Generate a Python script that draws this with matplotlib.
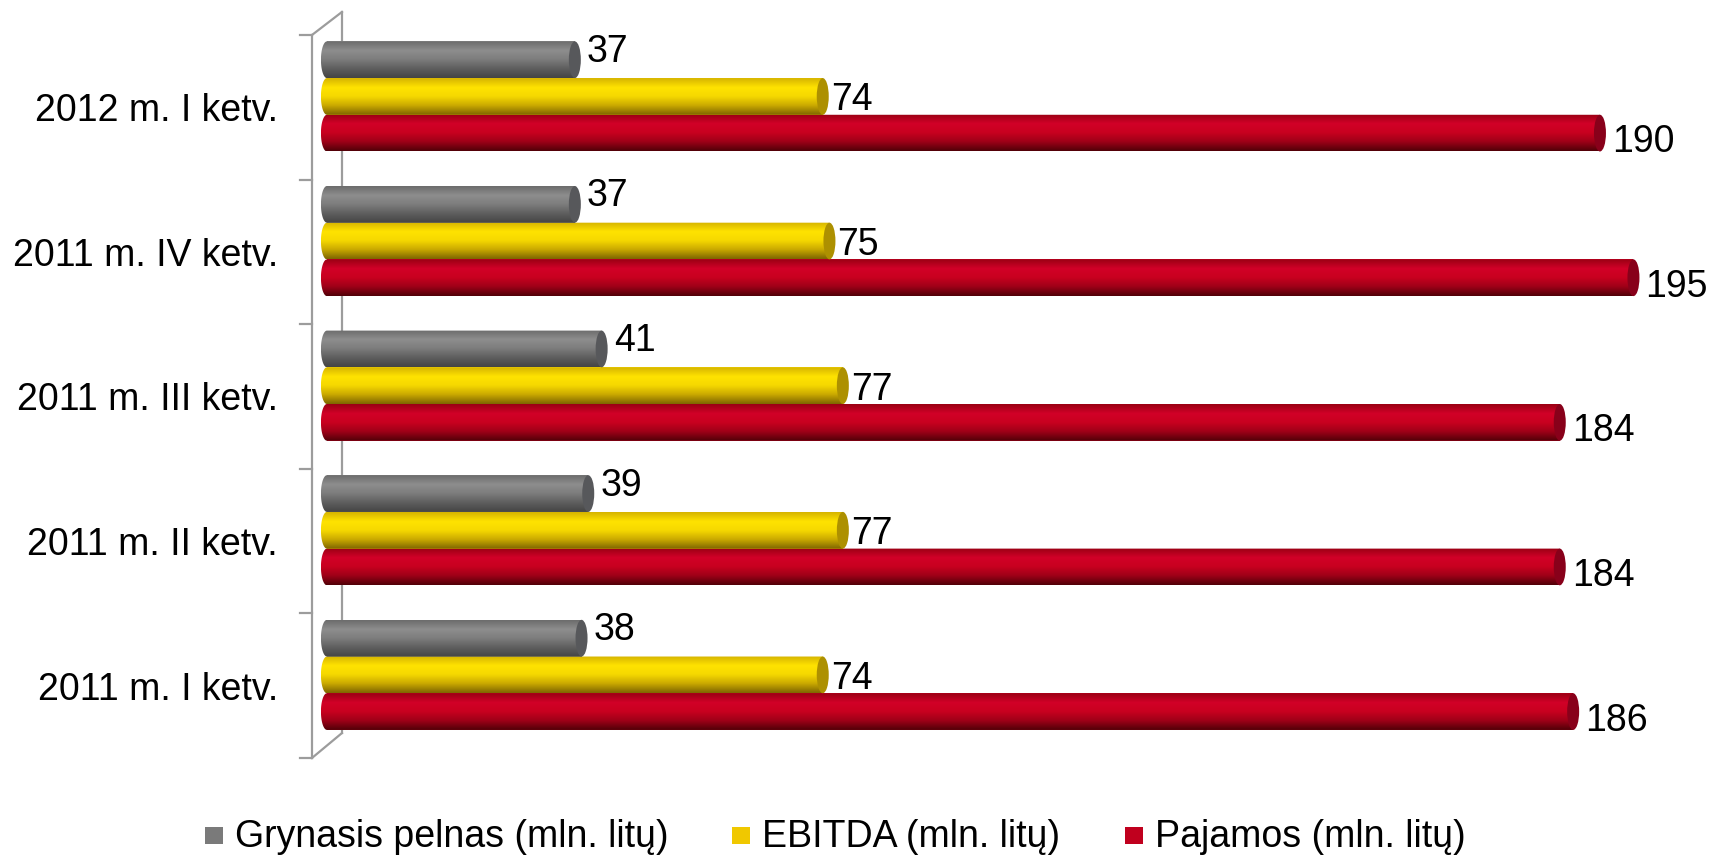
import numpy as np
import matplotlib
matplotlib.use("Agg")
import matplotlib.pyplot as plt
from matplotlib.colors import LinearSegmentedColormap
from matplotlib.patches import Polygon, Ellipse, Rectangle

plt.rcParams["font.family"] = ["Liberation Sans", "DejaVu Sans"]

# data (bottom to top)
quarters = ["2011 m. I ketv.", "2011 m. II ketv.", "2011 m. III ketv.",
            "2011 m. IV ketv.", "2012 m. I ketv."]
net_profit = [38, 39, 41, 37, 37]
ebitda = [74, 77, 77, 75, 74]
revenue = [186, 184, 184, 195, 190]
series_names = ["Grynasis pelnas (mln. litų)", "EBITDA (mln. litų)", "Pajamos (mln. litų)"]

# cylinder shading: top -> bottom
shades = [
    ["#6c6c6c", "#8e8e8e", "#7c7c7c", "#5e5e5e", "#454545"],
    ["#d6b400", "#ffe300", "#f5d800", "#c9a800", "#7f6600"],
    ["#9a0014", "#d20028", "#c8001f", "#9e0018", "#520008"],
]
caps = ["#57585b", "#ad9000", "#88001a"]
legend_colors = ["#7a7a7a", "#f0c800", "#c0001e"]

fs = 27
fig = plt.figure(figsize=(17.09, 8.55), dpi=100)
ax = fig.add_axes([0.1717, 0.1092, 0.8233, 0.8795])

px_x = 1407 / 210.0       # pixels per x unit
px_y = 752 / 5.2          # pixels per y unit
bh = 36.7 / px_y
rx = 6 / px_x

y = np.arange(len(quarters))
values = [net_profit, ebitda, revenue]
offsets = [bh, 0, -bh]

# 3D-ish axis frame
fx, bx = -15 / px_x, 15 / px_x
ftop, fbot = 4.4246, -0.575
btop, bbot = 4.584, -0.4025
lc = "#9c9c9c"
ax.plot([fx, fx], [fbot, ftop], color=lc, lw=1.6, clip_on=False, zorder=1)
ax.plot([bx, bx], [bbot, btop], color=lc, lw=1.6, clip_on=False, zorder=1)
ax.plot([fx, bx], [ftop, btop], color=lc, lw=1.6, clip_on=False, zorder=1)
ax.plot([fx, bx], [fbot, bbot], color=lc, lw=1.6, clip_on=False, zorder=1)
for t in range(6):
    ax.plot([fx - 12 / px_x, fx], [ftop - t, ftop - t], color=lc, lw=1.6,
            clip_on=False, zorder=1)

label_dx = [12, 8, 12]
label_dy = [12, 0, -5]

for s in [2, 1, 0]:
    cmap = LinearSegmentedColormap.from_list(f"c{s}", shades[s])
    grad = cmap(np.linspace(0, 1, 64))[:, None, :]
    bars = ax.barh(y + offsets[s], values[s], height=bh, color=shades[s][1],
                   linewidth=0, zorder=2)
    for bar, v in zip(bars, values[s]):
        y0 = bar.get_y()
        y1 = y0 + bar.get_height()
        yc = (y0 + y1) / 2
        # left rounded end
        arc = [(rx * np.cos(a), yc + (bh / 2) * np.sin(a))
               for a in np.linspace(3 * np.pi / 2, np.pi / 2, 40)]
        poly = Polygon([(0, y1), (v, y1), (v, y0), (0, y0)] + arc,
                       closed=True, transform=ax.transData)
        im = ax.imshow(grad, extent=[-rx, v, y0, y1], aspect="auto",
                       origin="upper", interpolation="bicubic", zorder=3)
        im.set_clip_path(poly)
        ax.add_patch(Ellipse((v, yc), 2 * rx, bh, facecolor=caps[s],
                             edgecolor="none", zorder=4))
        ax.annotate(str(v), (v, yc), xytext=(label_dx[s] * 0.72, label_dy[s] * 0.72),
                    textcoords="offset points", ha="left", va="center_baseline",
                    fontsize=fs, color="black", zorder=5)

ax.set_xlim(-5, 205)
ax.set_ylim(-0.6, 4.6)
ax.set_yticks(y - 0.075)
ax.set_yticklabels(quarters, fontsize=fs)
ax.tick_params(axis="y", length=0, pad=11.2)
ax.set_xticks([])
for sp in ax.spines.values():
    sp.set_visible(False)

# legend
W, H = 1709.0, 855.0
marker_x = [205, 732, 1125]
text_x = [235, 762, 1155]
for name, col, mx, tx in zip(series_names, legend_colors, marker_x, text_x):
    fig.patches.append(Rectangle((mx / W, (H - 844) / H), 18 / W, 17 / H,
                                 transform=fig.transFigure, facecolor=col,
                                 edgecolor="none"))
    fig.text(tx / W, (H - 847) / H, name, fontsize=fs, ha="left", va="baseline")

fig.savefig("out.png", dpi=100)
